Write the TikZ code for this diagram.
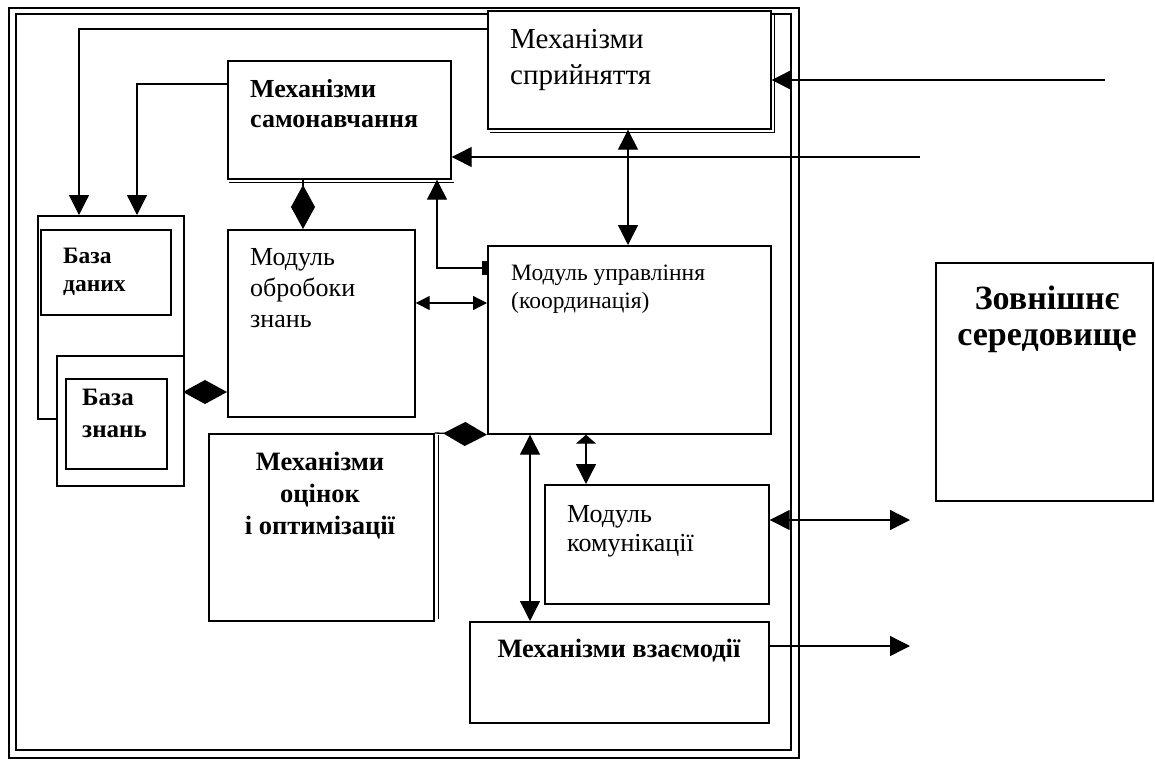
\documentclass[tikz,border=0pt]{standalone}
\usepackage{fontspec}
\setmainfont{Liberation Serif}
\usetikzlibrary{arrows.meta,calc}
\newcommand\myfs[2]{\fontsize{#1}{#2}\selectfont}
\begin{document}
\begin{tikzpicture}[x=1pt,y=-1pt,
  box/.style={draw, line width=1.7pt, rectangle, inner sep=0pt, anchor=north west, fill=white},
  frm/.style={draw, line width=1.8pt, rectangle, inner sep=0pt, anchor=north west},
  conn/.style={line width=1.3pt},
  shad/.style={line width=1.1pt},
  lbl/.style={inner sep=0pt, anchor=base west, align=left},
  big/.tip={Triangle[length=20pt,width=20pt]},
  sml/.tip={Triangle[length=14pt,width=14pt]},
  dia/.tip={Diamond[length=44pt,width=24pt]},
  stub/.tip={Rectangle[length=5pt,width=14pt]}
]
\useasboundingbox (0,0) rectangle (1155,761);
\fill[white] (0,0) rectangle (1155,761);

% outer frame
\node[frm, minimum width=790, minimum height=750] (frameout) at (8,7) {};
\node[frm, line width=1.5pt, minimum width=775, minimum height=736] (framein) at (15,13) {};

% boxes
\node[box, minimum width=283, minimum height=118] (perc) at (487,10) {};
\draw[shad] ($(perc.north east)+(3,3)$) -- ($(perc.south east)+(3,3)$) -- ($(perc.south west)+(3,3)$);
\node[box, minimum width=223, minimum height=118] (self) at (227,60) {};
\draw[shad] ($(self.south west)+(2,3)$) -- ($(self.south east)+(2,3)$);
\node[box, minimum width=146, minimum height=203] (dbc) at (37,215) {};
\node[box, minimum width=130, minimum height=85] (db) at (40,229) {};
\node[box, minimum width=127, minimum height=130] (kbc) at (56,355) {};
\node[box, minimum width=101, minimum height=90] (kb) at (65,378) {};
\node[box, minimum width=187, minimum height=187] (proc) at (227,229) {};
\node[box, minimum width=283, minimum height=188] (ctrl) at (487,245) {};
\node[box, minimum width=225, minimum height=187] (eval) at (208,433) {};
\draw[shad] ($(eval.north east)+(4,2)$) -- ($(eval.south east)+(4,-3)$);
\node[box, minimum width=224, minimum height=119] (comm) at (544,484) {};
\node[box, minimum width=299, minimum height=101] (inter) at (469,621) {};
\node[box, minimum width=217, minimum height=238] (ext) at (935,262) {};

% labels (anchor = baseline of last line)
\node[lbl, font=\myfs{29}{36}] (percT) at (510,84) {Механізми\\сприйняття};
\node[lbl, font=\myfs{26}{30}\bfseries] (selfT) at (250,127) {Механізми\\самонавчання};
\node[lbl, font=\myfs{23.5}{28}\bfseries] (dbT) at (63,291) {База\\даних};
\node[lbl, font=\myfs{25}{32}\bfseries] (kbT) at (82,437) {База\\знань};
\node[lbl, font=\myfs{26}{31}] (procT) at (250,327) {Модуль\\обробоки\\знань};
\node[lbl, font=\myfs{23.5}{28}] (ctrlT) at (511,308) {Модуль управління\\(координація)};
\node[lbl, anchor=base, align=center, font=\myfs{26.5}{32}\bfseries] (evalT) at (320,534) {Механізми\\оцінок\\і оптимізації};
\node[lbl, font=\myfs{26}{29}] (commT) at (567,551) {Модуль\\комунікації};
\node[lbl, anchor=base, font=\myfs{26.5}{30}\bfseries] (interT) at (619,657) {Механізми взаємодії};
\node[lbl, anchor=base, align=center, font=\myfs{34}{36}\bfseries] (extT) at (1047,345) {Зовнішнє\\середовище};

% free ends and bends
\coordinate (in1) at (1105,80);
\coordinate (in2) at (920,157);
\coordinate (o1) at (910,520);
\coordinate (o2) at (910,646);
\coordinate (b1) at (79,29);
\coordinate (b2) at (137,84);
\coordinate (b3) at (437,268);

% connectors
\draw[conn,-big] (in1) -- (in1 -| perc.east);
\draw[conn,-big] (in2) -- (in2 -| self.east);
\draw[conn,-big] (b1 -| perc.west) -- (b1) -- (b1 |- dbc.north);
\draw[conn,-big] (b2 -| self.west) -- (b2) -- (b2 |- dbc.north);
\draw[conn,-dia] (self.south -| 303,0) -- (proc.north -| 303,0);
\draw[conn,stub-big] (b3 -| ctrl.west) -- (b3) -- (b3 |- self.south);
\draw[conn,big-big] (perc.south -| 628,0) -- (ctrl.north -| 628,0);
\draw[conn,-dia] (kbc.east |- 0,392) -- (proc.west |- 0,392);
\draw[conn,sml-sml] (proc.east |- 0,303) -- (ctrl.west |- 0,303);
\draw[conn,-dia] (eval.north east) -- (ctrl.south west);
\draw[conn,big-big] (ctrl.south -| 530,0) -- (inter.north -| 530,0);
\draw[conn,{Triangle[length=9pt,width=20pt]}-big] (ctrl.south -| 586,0) -- (comm.north -| 586,0);
\draw[conn,big-big] (o1 -| comm.east) -- (o1);
\draw[conn,-big] (o2 -| inter.east) -- (o2);
\end{tikzpicture}
\end{document}
